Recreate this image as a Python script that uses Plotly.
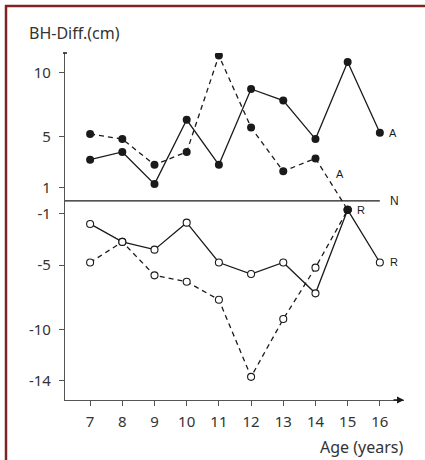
import plotly.graph_objects as go

# ---- data ----
ages = [7, 8, 9, 10, 11, 12, 13, 14, 15, 16]
a_solid = [3.2, 3.8, 1.3, 6.3, 2.8, 8.7, 7.8, 4.8, 10.8, 5.3]
a_dashed_ages = [7, 8, 9, 10, 11, 12, 13, 14, 15]
a_dashed = [5.2, 4.8, 2.8, 3.8, 11.3, 5.7, 2.3, 3.3, -0.7]
r_solid = [-1.8, -3.2, -3.8, -1.7, -4.8, -5.7, -4.8, -7.2, -0.7, -4.8]
r_dashed_ages = [7, 8, 9, 10, 11, 12, 13, 14, 15]
r_dashed = [-4.8, -3.2, -5.8, -6.3, -7.7, -13.7, -9.2, -5.2, -0.7]
y_ticks = [10, 5, 1, -1, -5, -10, -14]
x_ticks = [7, 8, 9, 10, 11, 12, 13, 14, 15, 16]
n_line_x = [6.22, 16]
n_line_y = [0, 0]

W, H = 425, 460
L, R, T, B = 65, 21, 53, 60
pw, ph = W - L - R, H - T - B


def px(xp):
    return (xp - L) / pw


def py(yp):
    return (H - B - yp) / ph


INK = "#1a1a1a"
TXT = "#333333"
FONT = "Noto Sans"

fig = go.Figure()

# N reference line
fig.add_trace(go.Scatter(x=n_line_x, y=n_line_y, mode="lines",
                         line=dict(color=INK, width=1.2), hoverinfo="skip"))

# A series
fig.add_trace(go.Scatter(x=a_dashed_ages, y=a_dashed, mode="lines+markers",
                         line=dict(color=INK, width=1.3, dash="5px,4px"),
                         marker=dict(color=INK, size=8, symbol="circle")))
fig.add_trace(go.Scatter(x=ages, y=a_solid, mode="lines+markers",
                         line=dict(color=INK, width=1.3),
                         marker=dict(color=INK, size=8, symbol="circle")))


def r_colors(xs):
    return [INK if a == 15 else "white" for a in xs]


fig.add_trace(go.Scatter(x=r_dashed_ages, y=r_dashed, mode="lines+markers",
                         line=dict(color=INK, width=1.3, dash="5px,4px"),
                         marker=dict(color=r_colors(r_dashed_ages), size=7,
                                     symbol="circle", line=dict(color=INK, width=1.1))))
fig.add_trace(go.Scatter(x=ages, y=r_solid, mode="lines+markers",
                         line=dict(color=INK, width=1.3),
                         marker=dict(color=r_colors(ages), size=7,
                                     symbol="circle", line=dict(color=INK, width=1.1))))

annotations = [
    dict(text="BH-Diff.(cm)", xref="paper", yref="paper", x=px(27), y=py(33),
         xanchor="left", yanchor="middle", showarrow=False,
         font=dict(size=16, color=TXT, family=FONT)),
    dict(text="Age (years)", xref="paper", yref="paper", x=px(405), y=py(447),
         xanchor="right", yanchor="middle", showarrow=False,
         font=dict(size=16, color=TXT, family=FONT)),
    dict(text="A", x=16, y=a_solid[-1], xshift=7, xanchor="left", yanchor="middle",
         showarrow=False, font=dict(size=11, color=INK, family="Liberation Sans")),
    dict(text="A", x=14.75, y=2.1, xanchor="center", yanchor="middle",
         showarrow=False, font=dict(size=11, color=INK, family="Liberation Sans")),
    dict(text="R", x=15, y=r_solid[8], xshift=7, xanchor="left", yanchor="middle",
         showarrow=False, font=dict(size=11, color=INK, family="Liberation Sans")),
    dict(text="R", x=16, y=r_solid[-1], xshift=8, xanchor="left", yanchor="middle",
         showarrow=False, font=dict(size=11, color=INK, family="Liberation Sans")),
    dict(text="N", x=16, y=0, xshift=8, xanchor="left", yanchor="middle",
         showarrow=False, font=dict(size=12, color=INK, family="Liberation Sans")),
    # x-axis arrow head
    dict(text="", xref="paper", yref="paper", x=1.0, y=0, ax=-12, ay=0,
         showarrow=True, arrowhead=2, arrowsize=1, arrowwidth=1.4, arrowcolor=INK),
]

border = "#7d2424"
shapes = [
    dict(type="line", xref="paper", yref="paper", x0=px(5), x1=px(425), y0=py(6), y1=py(6),
         line=dict(color=border, width=2.5)),
    dict(type="line", xref="paper", yref="paper", x0=px(6), x1=px(6), y0=py(5), y1=py(460),
         line=dict(color=border, width=2.5)),
    # y-axis top cap
    dict(type="line", xref="paper", yref="paper", x0=px(63), x1=px(67), y0=1, y1=1,
         line=dict(color=INK, width=1.5)),
]

fig.update_layout(
    width=W, height=H,
    margin=dict(l=L, r=R, t=T, b=B),
    paper_bgcolor="white", plot_bgcolor="white",
    showlegend=False,
    annotations=annotations,
    shapes=shapes,
    xaxis=dict(range=[6.22, 16.75], tickmode="array", tickvals=x_ticks,
               ticktext=[str(v) for v in x_ticks],
               showline=True, linecolor="#555555", linewidth=1.2,
               ticks="outside", ticklen=5, tickcolor="#555555", tickwidth=1,
               showgrid=False, zeroline=False, ticklabelstandoff=3,
               tickfont=dict(size=15, color=TXT, family=FONT)),
    yaxis=dict(range=[-15.5, 11.5], tickmode="array", tickvals=y_ticks,
               ticktext=[str(v) for v in y_ticks],
               showline=True, linecolor="#555555", linewidth=1.2,
               ticks="outside", ticklen=5, tickcolor="#555555", tickwidth=1,
               showgrid=False, zeroline=False, ticklabelstandoff=5,
               tickfont=dict(size=15, color=TXT, family=FONT)),
)

fig.write_html(
    "out.html",
    config={"displayModeBar": False},
    post_script="document.body.style.margin='0px';document.body.style.overflow='hidden';",
)
